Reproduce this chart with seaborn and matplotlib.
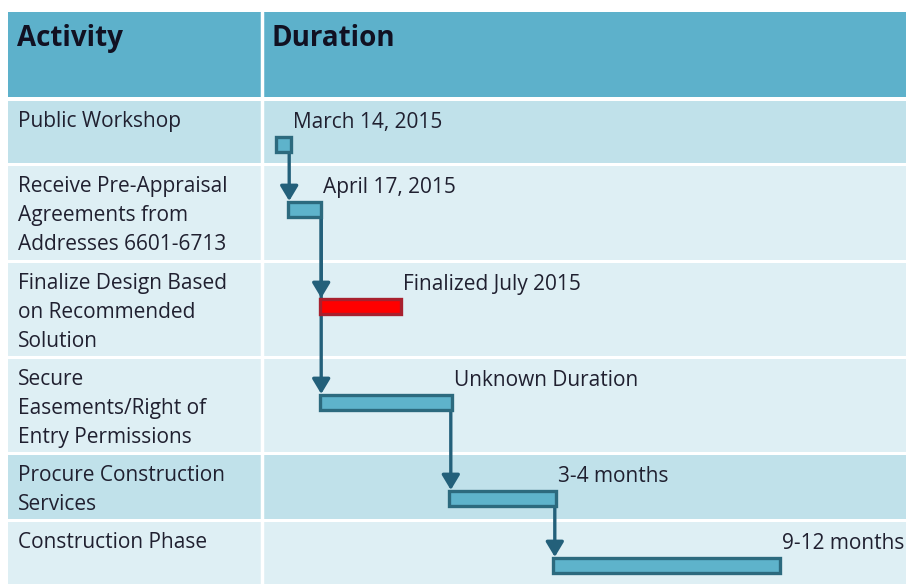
import pandas as pd
import seaborn as sns
import matplotlib.pyplot as plt
from matplotlib.patches import Rectangle

# chart content
activities = [
    "Public Workshop",
    "Receive Pre-Appraisal\nAgreements from\nAddresses 6601-6713",
    "Finalize Design Based\non Recommended\nSolution",
    "Secure\nEasements/Right of\nEntry Permissions",
    "Procure Construction\nServices",
    "Construction Phase",
]
bar_labels = ["March 14, 2015", "April 17, 2015", "Finalized July 2015",
              "Unknown Duration", "3-4 months", "9-12 months"]
# approximate months from start of March 2015
starts = [0.45, 0.8, 1.8, 1.8, 5.85, 9.1]
durations = [0.45, 1.05, 2.55, 4.15, 3.35, 7.1]
links = [(0, 1), (1, 2), (1, 3), (3, 4), (4, 5)]

# layout (pixels)
W, H = 906, 584
left_edge, col_split = 8, 262
header_top, header_bottom = 12, 97
row_edges = [99, 164, 261, 357, 453, 520, 592]
row_dark = [True, False, False, False, True, False]
bar_offset = 44
bar_h = 15
px_per_month = 32

header_col = "#5DB1CB"
dark_row = "#C0E1EA"
light_row = "#DEEFF4"
bar_fill = "#5EB3CB"
bar_edge = "#2C6A7E"
arrow_col = "#23607A"
txt_col = "#202030"

sns.set_theme(style="white")
plt.rcParams["font.family"] = ["Open Sans", "DejaVu Sans"]

fig = plt.figure(figsize=(W / 100, H / 100), dpi=100)
bg = fig.add_axes([0, 0, 1, 1])
bg.set_xlim(0, W)
bg.set_ylim(H, 0)
bg.axis("off")

# table background
bg.add_patch(Rectangle((left_edge, header_top), W - left_edge, header_bottom - header_top,
                       facecolor=header_col, edgecolor="none"))
for i in range(len(activities)):
    top = row_edges[i] + 1.5
    h = row_edges[i + 1] - row_edges[i] - 3
    bg.add_patch(Rectangle((left_edge, top), W - left_edge, h,
                           facecolor=dark_row if row_dark[i] else light_row, edgecolor="none"))
bg.plot([col_split, col_split], [header_top, H], color="white", lw=2.5)

bg.text(17, 46, "Activity", fontsize=20, fontweight="bold", color="#111122", va="baseline")
bg.text(272, 46, "Duration", fontsize=20, fontweight="bold", color="#111122", va="baseline")

for i, act in enumerate(activities):
    for j, line in enumerate(act.split("\n")):
        bg.text(18, row_edges[i] + 28 + j * 29, line, fontsize=15, color=txt_col,
                va="baseline")

# gantt bars
dax = fig.add_axes([col_split / W, 0, (W - col_split) / W, 1])
dax.set_facecolor("none")

ypos = [row_edges[i] + 1.5 + bar_offset for i in range(len(activities))]
df = pd.DataFrame({"y": ypos, "dur": durations, "start": starts})
gaps = [b - a for a, b in zip(ypos[:-1], ypos[1:])]
fills = [bar_fill] * len(activities)
edges = [bar_edge] * len(activities)
fills[2] = "#FF0000"
edges[2] = "#A8202E"

sns.barplot(data=df, x="dur", y="y", orient="y", native_scale=True,
            width=bar_h / min(gaps), errorbar=None, color=bar_fill, saturation=1,
            left=df["start"].to_numpy(), facecolor=fills, edgecolor=edges,
            linewidth=2.4, zorder=3, ax=dax)

for a, b in links:
    x = starts[b] + 0.05
    dax.annotate("", xy=(x, ypos[b] - bar_h / 2 - 1), xytext=(x, ypos[a] + bar_h / 2),
                 arrowprops=dict(arrowstyle="-|>,head_length=0.75,head_width=0.45",
                                 color=arrow_col, lw=2.4, shrinkA=0, shrinkB=0),
                 zorder=2)

for s, d, y, lab in zip(starts, durations, ypos, bar_labels):
    dax.text(s + d + 0.06, y - bar_h / 2 - 9, lab, fontsize=15, color=txt_col,
             va="baseline")

dax.set_xlim(0, (W - col_split) / px_per_month)
dax.set_ylim(H, 0)
dax.axis("off")

fig.savefig("out.png", dpi=100)
